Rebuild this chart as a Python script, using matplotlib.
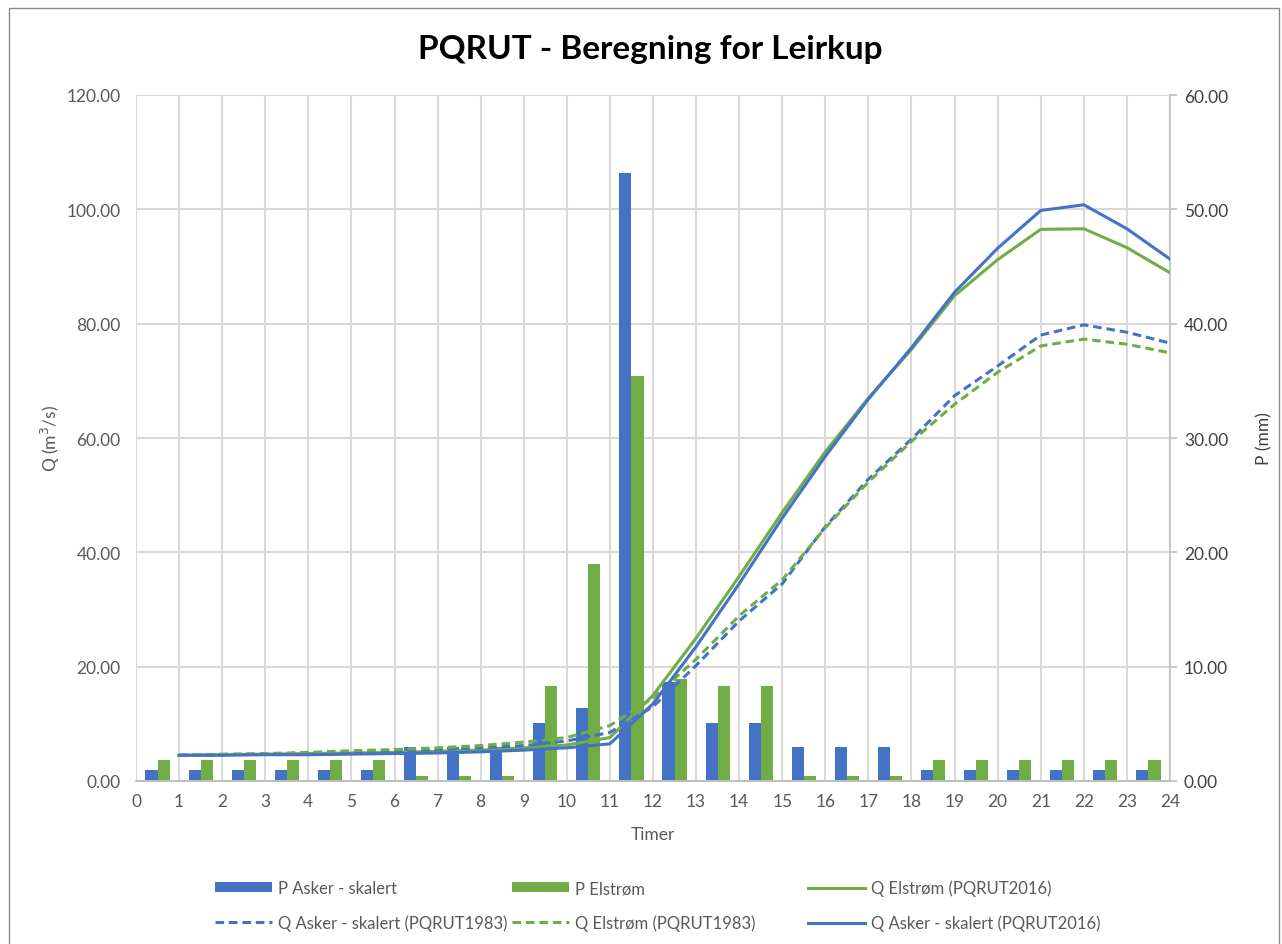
import numpy as np
import matplotlib
matplotlib.use("Agg")
import matplotlib.pyplot as plt
from matplotlib.patches import Rectangle
from matplotlib.ticker import FormatStrFormatter

plt.rcParams['font.family'] = ['Lato', 'DejaVu Sans']

# --- data ---
hours = np.arange(1, 25)

# precipitation per hour (mm), right axis
p_asker = [1.0, 1.0, 1.0, 1.0, 1.0, 1.0, 3.0, 3.0, 3.0, 5.1, 6.4, 53.2,
           8.7, 5.1, 5.1, 3.0, 3.0, 3.0, 1.0, 1.0, 1.0, 1.0, 1.0, 1.0]
p_elstrom = [1.8, 1.8, 1.8, 1.8, 1.8, 1.8, 0.4, 0.4, 0.4, 8.3, 19.0, 35.4,
             8.9, 8.3, 8.3, 0.4, 0.4, 0.4, 1.8, 1.8, 1.8, 1.8, 1.8, 1.8]

# discharge (m3/s), left axis
q_asker_2016 = [4.5, 4.5, 4.6, 4.6, 4.7, 4.8, 4.9, 5.1, 5.4, 5.8, 6.5, 13.5,
                23.5, 34.5, 46.0, 56.8, 66.8, 75.8, 85.5, 93.2, 99.8, 100.8, 96.6, 91.3]
q_elstrom_2016 = [4.5, 4.6, 4.7, 4.8, 4.9, 5.0, 5.2, 5.4, 5.8, 6.3, 7.6, 15.0,
                  25.0, 35.8, 47.0, 57.6, 67.0, 75.5, 84.9, 91.2, 96.5, 96.6, 93.3, 88.9]
q_asker_1983 = [4.5, 4.6, 4.7, 4.9, 5.1, 5.3, 5.5, 5.8, 6.2, 7.0, 8.5, 13.0,
                20.2, 28.0, 34.5, 44.5, 52.8, 59.8, 67.4, 72.6, 78.0, 79.8, 78.5, 76.6]
q_elstrom_1983 = [4.5, 4.7, 4.8, 5.0, 5.3, 5.5, 5.8, 6.2, 6.8, 7.6, 9.7, 14.5,
                  21.3, 28.9, 35.2, 44.3, 52.3, 59.4, 65.9, 71.5, 76.1, 77.3, 76.4, 74.9]

BLUE = '#4472C4'
GREEN = '#70AD47'
GRID = '#d9d9d9'
TXT = '#595959'

fig = plt.figure(figsize=(12.82, 9.45), dpi=100)
ax = fig.add_axes([136/1282, 1-782/945, (1170-136)/1282, (782-96)/945])
ax2 = ax.twinx()

# bars on the secondary (behind), lines on the primary (front)
ax.set_zorder(ax2.get_zorder() + 1)
ax.patch.set_visible(False)

bw = 0.28
centers = hours - 0.5
b1 = ax2.bar(centers - bw/2, p_asker, width=bw, color=BLUE, label='P Asker - skalert')
b2 = ax2.bar(centers + bw/2, p_elstrom, width=bw, color=GREEN, label='P Elstrøm')

lw = 2.2
l_e16, = ax.plot(hours, q_elstrom_2016, color=GREEN, lw=lw, label='Q Elstrøm (PQRUT2016)')
l_a83, = ax.plot(hours, q_asker_1983, color=BLUE, lw=lw, dashes=(2.8, 1.6),
                 label='Q Asker - skalert (PQRUT1983)')
l_e83, = ax.plot(hours, q_elstrom_1983, color=GREEN, lw=lw, dashes=(2.8, 1.6),
                 label='Q Elstrøm (PQRUT1983)')
l_a16, = ax.plot(hours, q_asker_2016, color=BLUE, lw=lw, label='Q Asker - skalert (PQRUT2016)')

# axes
ax.set_xlim(0, 24)
ax.set_ylim(0, 120)
ax2.set_ylim(0, 60)
ax.set_xticks(range(0, 25))
ax.set_yticks(range(0, 121, 20))
ax2.set_yticks(range(0, 61, 10))
ax.yaxis.set_major_formatter(FormatStrFormatter('%.2f'))
ax2.yaxis.set_major_formatter(FormatStrFormatter('%.2f'))

# gridlines live on the back axes so they stay behind the bars
ax2.xaxis.set_visible(True)
ax2.tick_params(axis='x', length=0, labelbottom=False, labeltop=False)
ax2.grid(True, axis='both', color=GRID, lw=1.5)
ax2.set_axisbelow(True)

for a in (ax, ax2):
    for s in ('top', 'left', 'right'):
        a.spines[s].set_visible(False)
    a.spines['bottom'].set_color('#bfbfbf')
    a.spines['bottom'].set_linewidth(1.2)
ax2.spines['right'].set_visible(True)
ax2.spines['right'].set_color('#bfbfbf')
ax2.spines['right'].set_linewidth(1.2)

ax.tick_params(axis='y', length=0, pad=11, labelsize=12.5, labelcolor=TXT)
ax.tick_params(axis='x', length=0, pad=9, labelsize=12.5, labelcolor=TXT)
ax2.tick_params(axis='y', length=5, width=1.2, color='#bfbfbf', pad=5,
                labelsize=12.5, labelcolor='#404040')

ax.set_xlabel('Timer', fontsize=12.5, color=TXT, labelpad=12)
ax.set_ylabel('Q (m$^3$/s)', fontsize=12.5, color=TXT, labelpad=3)
ax2.set_ylabel('P (mm)', fontsize=12.5, color='#404040', labelpad=20)

fig.text(0.507, 1-50/945, 'PQRUT - Beregning for Leirkup', ha='center', va='center',
         fontsize=24, fontweight='bold', color='black')

# legend: three columns of equal width, as in the original
cols = [([b1, l_a83], 215), ([b2, l_e83], 512), ([l_e16, l_a16], 808)]
for handles, xpix in cols:
    leg = fig.legend(handles=handles, loc='center left',
                     bbox_to_anchor=(xpix/1282, 1-906.5/945),
                     frameon=False, fontsize=12, handlelength=3.4,
                     handleheight=0.6, handletextpad=0.4, labelspacing=1.1,
                     borderpad=0, borderaxespad=0)
    for t in leg.get_texts():
        t.set_color(TXT)

# chart area border
fig.patches.append(Rectangle((9/1282, -0.01), 1 - 12/1282, 1 - 9/945 + 0.01,
                             transform=fig.transFigure, fill=False,
                             edgecolor='#8c8c8c', lw=1))

fig.savefig('out.png', dpi=100)
